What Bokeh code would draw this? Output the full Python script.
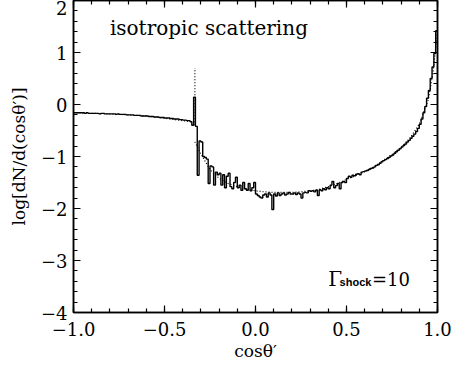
import numpy as np
from bokeh.plotting import figure
from bokeh.models import LinearAxis, FixedTicker, Label, Range1d
from bokeh.embed import file_html
from bokeh.resources import INLINE

# ---- data (log dN/dcos theta', 200 bins of width 0.01 from -1 to 1) ----
hist_values = [
    -0.16, -0.16, -0.16, -0.16, -0.16, -0.16, -0.17, -0.16, -0.17, -0.17,
    -0.17, -0.17, -0.17, -0.17, -0.18, -0.17, -0.17, -0.18, -0.18, -0.18,
    -0.18, -0.18, -0.18, -0.19, -0.18, -0.19, -0.19, -0.19, -0.19, -0.20,
    -0.20, -0.20, -0.20, -0.21, -0.21, -0.21, -0.21, -0.22, -0.22, -0.22,
    -0.22, -0.23, -0.23, -0.23, -0.24, -0.24, -0.24, -0.25, -0.25, -0.25,
    -0.26, -0.26, -0.26, -0.27, -0.27, -0.28, -0.28, -0.28, -0.29, -0.29,
    -0.30, -0.30, -0.31, -0.31, -0.33, -0.40, 0.14, -0.42, -1.36, -0.70,
    -0.72, -1.00, -1.02, -1.05, -1.52, -1.18, -1.20, -1.55, -1.30, -1.35,
    -1.32, -1.55, -1.35, -1.60, -1.38, -1.32, -1.58, -1.62, -1.50, -1.40,
    -1.60, -1.55, -1.65, -1.50, -1.62, -1.65, -1.52, -1.66, -1.60, -1.50,
    -1.72, -1.75, -1.78, -1.80, -1.74, -1.72, -1.78, -1.70, -1.74, -2.02,
    -1.72, -1.76, -1.70, -1.75, -1.72, -1.70, -1.74, -1.72, -1.69, -1.72,
    -1.72, -1.70, -1.73, -1.70, -1.72, -1.80, -1.70, -1.69, -1.70, -1.66,
    -1.67, -1.66, -1.68, -1.65, -1.75, -1.64, -1.66, -1.62, -1.64, -1.60,
    -1.62, -1.55, -1.48, -1.60, -1.56, -1.52, -1.62, -1.50, -1.48, -1.50,
    -1.42, -1.38, -1.40, -1.36, -1.37, -1.34, -1.33, -1.35, -1.30, -1.29,
    -1.28, -1.27, -1.25, -1.23, -1.22, -1.20, -1.17, -1.16, -1.13, -1.10,
    -1.08, -1.06, -1.04, -1.02, -0.99, -0.97, -0.94, -0.91, -0.88, -0.85,
    -0.82, -0.79, -0.76, -0.72, -0.69, -0.65, -0.61, -0.57, -0.52, -0.46,
    -0.38, -0.28, -0.16, -0.04, 0.12, 0.27, 0.50, 0.72, 0.98, 1.42,
]
hist_lo, hist_hi = -1.0, 1.0

# analytic (dotted) curve
theory_left_x = [-1.0, -0.8, -0.6, -0.4, -0.333]
theory_left_y = [-0.16, -0.18, -0.22, -0.31, -0.34]
spike_x = [-0.333, -0.333]
spike_y = [-0.40, 0.70]
theory_right_x = [-0.333, -0.3, -0.25, -0.2, -0.15, -0.1, -0.05, 0.0, 0.05, 0.1,
                  0.15, 0.2, 0.25, 0.3, 0.35, 0.4, 0.45, 0.5, 0.55, 0.6, 0.65,
                  0.7, 0.75, 0.8, 0.85, 0.9, 0.95, 0.975, 1.0]
theory_right_y = [-0.72, -0.95, -1.25, -1.42, -1.52, -1.58, -1.63, -1.66, -1.68, -1.69,
                  -1.69, -1.69, -1.68, -1.66, -1.63, -1.58, -1.52, -1.44, -1.37, -1.29, -1.20,
                  -1.08, -0.96, -0.82, -0.64, -0.38, 0.10, 0.60, 1.42]

x_ticks = [-1.0, -0.5, 0.0, 0.5, 1.0]
x_tick_labels = ["\u22121.0", "\u22120.5", "0.0", "0.5", "1.0"]
y_ticks = [-4, -3, -2, -1, 0, 1, 2]
y_tick_labels = ["\u22124", "\u22123", "\u22122", "\u22121", "0", "1", "2"]

title_text = "isotropic scattering"
gamma_text = "\u0393"
gamma_sub = "shock"
gamma_val = "=10"
x_label = "cos\u03b8\u2032"
y_label = "log[dN/d(cos\u03b8\u2032)]"

SERIF = "DejaVu Serif"

# ---- figure ----
p = figure(width=452, height=367, x_range=Range1d(-1, 1), y_range=Range1d(-4, 2),
           output_backend="svg", toolbar_location=None,
           min_border_left=73, min_border_right=15, min_border_top=0, min_border_bottom=55)
p.grid.visible = False
p.background_fill_color = "white"
p.border_fill_color = "white"
p.outline_line_color = "black"
p.outline_line_width = 1.5

n = len(hist_values)
edges = np.linspace(hist_lo, hist_hi, n + 1)
step_y = list(hist_values) + [hist_values[-1]]
p.step(edges, step_y, mode="after", line_color="black", line_width=1.4)

p.line(theory_left_x, theory_left_y, line_color="black", line_width=1.2, line_dash="1 2")
p.line(spike_x, spike_y, line_color="black", line_width=1.2, line_dash="1 2")
p.line(theory_right_x, theory_right_y, line_color="black", line_width=1.2, line_dash="1 2")

x_minor = [round(v, 2) for v in np.arange(-1.0, 1.0001, 0.1)]
y_minor = [round(v, 2) for v in np.arange(-4.0, 2.0001, 0.2)]
xt = FixedTicker(ticks=x_ticks, minor_ticks=x_minor)
yt = FixedTicker(ticks=y_ticks, minor_ticks=y_minor)


def style_axis(ax):
    ax.axis_line_color = "black"
    ax.axis_line_width = 1.5
    ax.major_tick_line_color = "black"
    ax.minor_tick_line_color = "black"
    ax.major_tick_line_width = 1.2
    ax.minor_tick_line_width = 1.2
    ax.major_tick_in = 7
    ax.major_tick_out = 0
    ax.minor_tick_in = 4
    ax.minor_tick_out = 0
    ax.major_label_text_font = SERIF
    ax.major_label_text_font_size = "18px"
    ax.major_label_text_color = "black"
    ax.axis_label_text_font = SERIF
    ax.axis_label_text_font_size = "17px"
    ax.axis_label_text_font_style = "normal"
    ax.axis_label_text_color = "black"


xa = p.xaxis[0]
xa.ticker = xt
xa.major_label_overrides = {t: l for t, l in zip(x_ticks, x_tick_labels)}
xa.axis_label = x_label
style_axis(xa)
xa.major_label_standoff = 9
xa.axis_label_standoff = 2

ya = p.yaxis[0]
ya.ticker = yt
ya.major_label_overrides = {t: l for t, l in zip(y_ticks, y_tick_labels)}
ya.axis_label = y_label
style_axis(ya)
ya.major_label_standoff = 6
ya.axis_label_standoff = 9

top = LinearAxis(ticker=FixedTicker(ticks=x_ticks, minor_ticks=x_minor))
style_axis(top)
top.major_label_overrides = {t: "" for t in x_ticks}
top.major_label_text_font_size = "0px"
top.major_label_standoff = 0
p.add_layout(top, "above")
right = LinearAxis(ticker=FixedTicker(ticks=y_ticks, minor_ticks=y_minor))
style_axis(right)
right.major_label_overrides = {t: "" for t in y_ticks}
right.major_label_text_font_size = "0px"
right.major_label_standoff = 0
p.add_layout(right, "right")

p.add_layout(Label(x=-0.8, y=1.48, text=title_text, text_font=SERIF,
                   text_font_size="20px", text_color="black", text_baseline="alphabetic"))
p.add_layout(Label(x=0.40, y=-3.36, text=gamma_text, text_font=SERIF,
                   text_font_size="20px", text_color="black", text_baseline="alphabetic"))
p.add_layout(Label(x=0.462, y=-3.41, text=gamma_sub, text_font="Liberation Sans",
                   text_font_style="bold", text_font_size="11px", text_color="black",
                   text_baseline="alphabetic"))
p.add_layout(Label(x=0.64, y=-3.36, text=gamma_val, text_font=SERIF,
                   text_font_size="18px", text_color="black", text_baseline="alphabetic"))

open("out.html", "w").write(file_html(p, INLINE))
